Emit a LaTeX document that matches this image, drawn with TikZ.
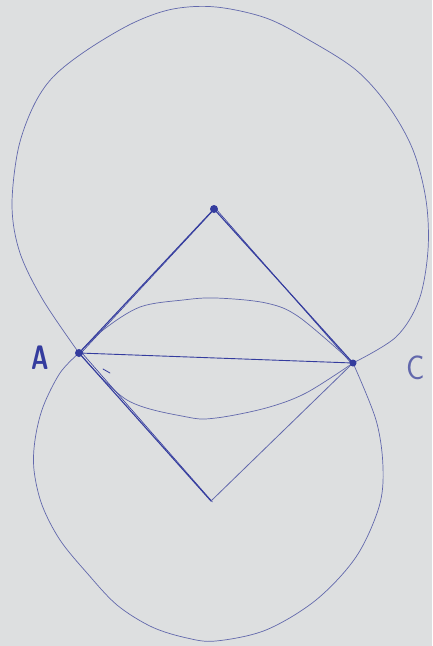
\documentclass[tikz,border=0pt]{standalone}
\usetikzlibrary{positioning}
\definecolor{paper}{RGB}{221,223,224}
\definecolor{ink}{RGB}{52,60,158}
\definecolor{inklight}{RGB}{98,104,172}

\begin{document}
\begin{tikzpicture}[x=1pt, y=-1pt, line cap=round, line join=round]

    % Draw paper
    \fill [paper] (0,0) rectangle (432,646);
    \useasboundingbox (0,0) rectangle (432,646);

    % Draw points
    \coordinate (A) at (79,353);
    \coordinate (C) at (353,363);
    \coordinate (B) at (214,209);
    \coordinate (D) at (211,501);

    % Draw outer circles
    \draw [inklight, line width=0.7pt] plot [smooth, tension=0.55] coordinates {(A) (43,300) (20,253) (12,207) (18,150) (33,107) (53,77) (87,50) (133,23) (173,9) (216,7) (266,18) (309,40) (356,70) (389,107) (413,150) (426,200) (428,250) (419,300) (396,337) (C)};
    \draw [inklight, line width=0.7pt] plot [smooth, tension=0.55] coordinates {(A) (60,373) (43,407) (35,440) (34,470) (42,505) (60,540) (87,573) (117,605) (152,627) (187,638) (216,641) (266,630) (316,600) (356,557) (379,507) (383,467) (376,420) (C)};

    % Draw lens
    \draw [inklight, line width=0.7pt] plot [smooth, tension=0.55] coordinates {(A) (103,330) (140,307) (183,300) (216,298) (266,303) (299,317) (C)};
    \draw [inklight, line width=0.7pt] plot [smooth, tension=0.55] coordinates {(A) (127,400) (187,417) (216,418) (266,408) (306,393) (C)};

    % Draw diagonal
    \draw [ink, line width=0.9pt] (A) -- (C);

    % Draw square
    \draw [ink, line width=1.1pt] (A) -- (B);
    \draw [ink, line width=0.6pt] ([xshift=2pt]A) -- ([xshift=1.5pt, yshift=1pt]B);
    \draw [ink, line width=1.1pt] (B) -- (C);
    \draw [ink, line width=0.6pt] ([xshift=2pt]B) -- ([xshift=-1pt, yshift=-1pt]C);
    \draw [ink, line width=1.1pt] (A) -- (D);
    \draw [ink, line width=0.6pt] ([xshift=3pt]A) -- ([xshift=1.5pt, yshift=-1pt]D);
    \draw [inklight, line width=0.8pt] (C) -- (D);
    \draw [ink, line width=0.8pt] (103,369) -- (110,373);

    % Draw vertices
    \fill [ink] (A) circle [radius=4pt];
    \fill [ink] (B) circle [radius=4pt];
    \fill [ink] (C) circle [radius=3.5pt];

    % Draw labels
    \node [ink, xscale=0.7, font=\fontsize{34}{34}\selectfont\sffamily\bfseries] (labelA) at (40,358) {A};
    \node [inklight, xscale=0.9, font=\fontsize{34}{34}\selectfont\sffamily] (labelC) at (416,368) {C};

\end{tikzpicture}
\end{document}
